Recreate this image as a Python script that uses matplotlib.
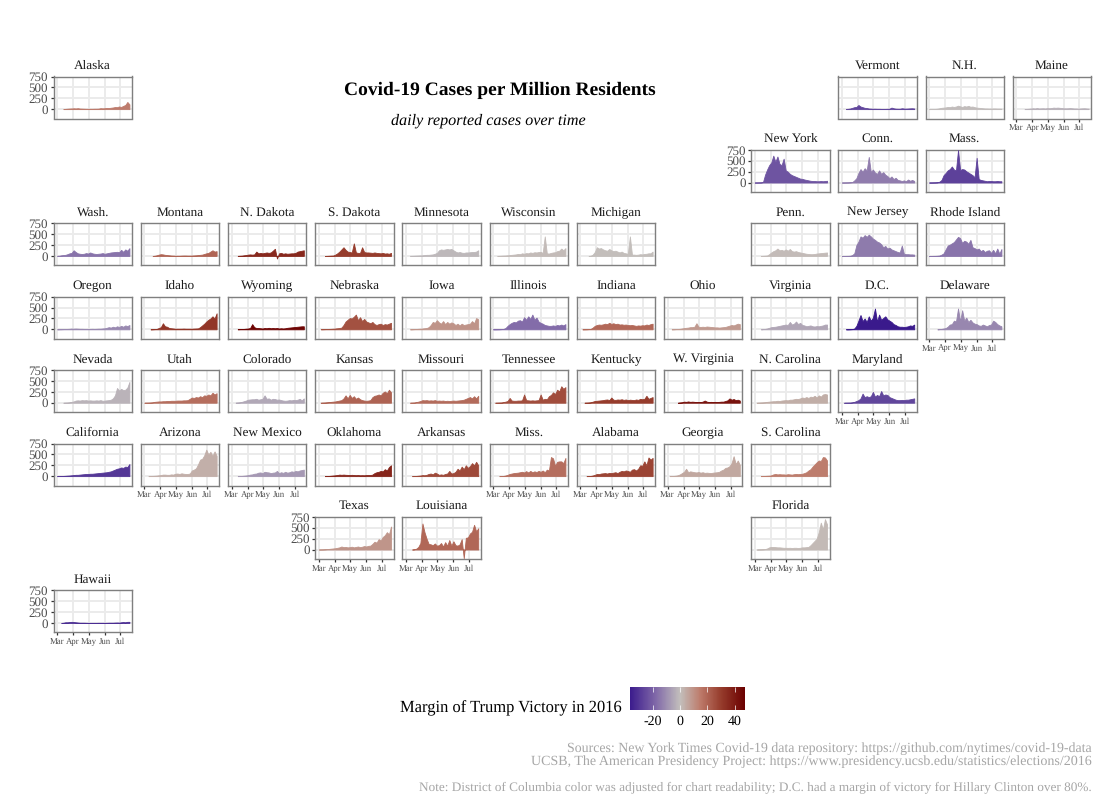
import numpy as np
import pandas as pd
import matplotlib
matplotlib.use("Agg")
import matplotlib.pyplot as plt
from matplotlib.cm import ScalarMappable
from matplotlib.colors import LinearSegmentedColormap, Normalize

plt.rcParams["font.family"] = ["Liberation Serif", "DejaVu Serif"]
plt.rcParams["text.hinting"] = "no_hinting"

# daily cases per million, read every 4 days, each list ends in mid July
alaska = [2,6,10,14,16,20,16,22,14,12,10,8,8,8,8,10,10,12,22,18,22,28,25,32,38,48,45,62,50,75,95,165,110]
vermont = [5,8,15,30,45,50,95,60,45,30,25,15,12,10,10,8,8,6,6,6,8,10,35,20,12,10,10,20,15,12,15,18,20,15]
nh = [0,2,3,5,10,20,30,35,40,50,45,60,50,60,80,65,50,70,60,75,55,60,45,35,30,25,20,15,15,12,15,15,15,12,12,10]
maine = [2,5,8,15,20,15,25,15,18,20,15,25,20,25,35,30,35,30,25,20,18,20,25,20,15,15,12,15,18,20,15,12]
new_york = [0,0,1,2,10,180,300,400,460,620,480,600,430,400,550,280,250,200,170,150,130,110,90,85,70,60,50,40,35,35,30,30,35,30,35,40]
conn = [0,0,1,2,5,10,50,100,220,310,250,330,280,590,240,300,230,200,280,200,240,180,150,100,140,80,110,60,50,35,50,30,70,40,60,35]
mass = [0,0,1,2,5,20,60,170,220,280,310,370,300,280,750,290,310,300,260,230,200,170,120,570,80,60,50,40,30,35,35,30,30,35,30,30]
wash = [5,5,15,20,25,40,60,70,130,90,60,50,45,50,65,55,80,60,50,45,50,55,65,50,60,70,80,85,90,95,85,140,95,150,120,180]
montana = [0,5,15,30,40,35,25,20,15,10,8,5,5,5,8,10,10,8,8,10,12,15,20,25,30,45,60,70,100,130,100,110]
n_dakota = [2,5,8,15,20,30,35,30,35,100,60,70,60,70,80,70,80,120,165,-60,60,70,50,60,50,55,60,60,70,100,110,120,130]
s_dakota = [0,2,5,8,10,30,60,100,150,200,140,100,90,80,290,80,70,70,200,90,80,80,75,70,80,70,65,60,70,55,60,50,70]
minnesota = [2,3,5,8,10,12,15,20,25,25,30,35,50,70,130,150,140,150,160,150,160,130,100,80,90,75,70,80,80,85,90,90,100,130]
wisconsin = [0,2,5,8,10,15,20,25,30,35,45,40,60,50,65,60,80,70,85,80,90,95,70,450,60,55,70,80,85,110,120,170,130,180]
michigan = [0,5,30,90,200,170,180,150,130,120,160,130,110,120,100,80,100,70,60,50,450,30,30,25,30,40,35,45,50,60,60,100]
penn = [0,2,5,10,40,80,110,130,170,130,140,120,150,120,160,110,100,110,90,80,70,60,50,45,40,40,45,55,60,65,70,75,80]
new_jersey = [0,0,1,2,5,20,60,250,330,450,420,480,440,490,450,400,370,330,310,270,200,230,170,190,150,130,110,90,80,240,50,40,40,35,35,30]
rhode_island = [0,0,1,2,5,10,30,60,150,240,260,290,320,380,440,410,300,350,330,280,370,200,180,150,170,110,140,90,120,130,70,140,60,170,50,160]
oregon = [0,2,3,5,8,10,12,18,15,18,15,12,12,10,10,10,10,12,10,12,15,15,20,25,35,50,40,60,45,70,55,80,60,90,75,100]
idaho = [0,2,5,10,30,50,140,70,60,30,25,20,15,15,15,15,18,15,15,15,15,18,20,22,50,90,130,180,220,250,300,250,370]
wyoming = [2,5,8,10,15,20,30,120,50,30,30,25,20,30,25,35,25,30,25,30,20,25,20,25,35,40,45,50,55,60,65,70,70]
nebraska = [2,3,5,8,10,12,15,20,25,30,40,100,180,220,260,250,290,340,210,280,190,240,180,160,140,170,120,100,120,130,100,120,110,130,150]
iowa = [0,2,5,8,12,15,20,25,30,50,100,170,150,210,160,130,190,120,170,130,160,140,100,130,90,130,100,110,120,130,190,140,260,230]
illinois = [0,0,1,2,5,10,30,80,120,150,170,160,200,210,180,280,220,300,240,340,220,270,180,150,130,100,90,80,80,90,80,100,90,110,90,120]
indiana = [0,1,2,5,10,40,80,100,110,105,115,130,120,150,125,140,120,130,110,115,105,110,100,95,100,90,80,90,85,95,90,110,100,120,130]
ohio = [0,2,5,8,12,20,30,35,40,50,50,60,140,60,55,60,55,65,60,55,50,45,45,40,45,50,55,70,85,100,90,110,130,120]
virginia = [0,5,10,20,35,50,55,60,70,80,90,100,110,100,170,110,130,180,120,150,100,90,70,80,90,70,65,75,70,80,90,110,110]
dc = [0,0,2,5,20,80,200,330,190,250,170,300,200,270,480,180,340,220,260,300,230,200,170,120,100,70,60,60,55,60,70,90,80,110]
delaware = [0,5,10,20,30,60,110,120,200,180,480,190,440,200,270,170,220,160,130,120,90,80,110,90,70,100,110,200,170,120,90,70]
nevada = [0,2,5,10,20,30,50,55,50,60,55,60,50,55,50,50,55,50,60,45,50,55,60,70,100,170,340,280,320,290,300,350,480]
utah = [0,1,2,5,10,20,25,30,30,35,35,40,40,45,45,45,50,50,50,55,55,60,90,120,110,130,120,150,130,170,160,190,170,230,190,220]
colorado = [2,5,10,20,35,50,70,75,80,80,90,70,80,90,170,90,100,70,90,85,70,75,60,50,45,50,60,55,65,60,70,90,55,100]
kansas = [0,2,5,10,15,20,25,30,40,50,60,100,170,100,180,110,150,90,120,80,60,50,45,50,60,130,160,170,190,170,230,260,220,300,240]
missouri = [0,2,5,15,25,40,60,55,60,50,55,50,60,45,50,45,50,40,45,40,45,50,45,50,55,60,70,90,110,130,100,150,100,160]
tennessee = [0,1,3,5,15,25,40,110,50,45,45,50,50,55,190,60,55,50,55,50,55,60,190,70,90,80,150,180,240,200,300,260,380,320,360]
kentucky = [0,2,5,10,25,40,45,50,55,60,70,75,60,120,70,65,75,70,80,65,75,60,70,65,60,75,65,90,80,90,160,90,110,130]
w_virginia = [0,5,10,25,20,30,20,25,20,15,18,15,25,50,25,15,20,15,20,15,20,25,25,40,55,100,70,85,60,70,50]
n_carolina = [0,2,5,8,12,20,25,30,35,35,45,40,50,55,60,55,70,70,80,90,85,100,120,110,130,110,140,130,160,120,170,140,190,200,190]
maryland = [0,1,2,3,10,20,40,60,100,210,130,150,130,150,250,140,180,150,270,170,190,180,130,110,90,70,60,60,65,60,70,70,80,90,100]
california = [0,2,3,5,8,12,15,20,25,30,30,35,40,45,50,50,55,55,60,65,70,75,80,85,90,100,110,130,150,170,180,200,190,220,210,280]
arizona = [0,2,5,8,12,20,25,35,35,30,30,40,35,55,60,50,65,55,50,50,60,130,150,180,270,380,400,480,610,500,560,470,570,470]
new_mexico = [0,2,5,10,15,25,35,40,55,60,80,85,70,100,90,85,70,80,85,120,70,90,75,100,80,90,110,100,120,110,130,140,150]
oklahoma = [0,2,5,10,15,20,25,35,30,35,30,28,25,30,25,22,25,20,22,20,25,28,25,35,70,90,100,120,110,160,130,210,250]
arkansas = [0,2,5,10,15,25,20,30,50,60,40,80,60,30,40,30,50,60,120,60,70,100,170,130,220,160,250,190,230,300,250,330,250]
miss = [0,2,5,15,30,50,60,70,75,80,90,100,85,115,85,120,90,110,95,120,100,130,90,150,130,440,410,240,330,340,340,300,420]
alabama = [0,2,5,15,30,50,45,60,65,70,60,75,70,80,90,70,100,120,110,130,120,100,150,160,130,170,250,240,340,250,430,380,420]
georgia = [0,2,5,10,20,40,70,100,170,90,110,100,90,85,95,80,90,75,80,75,70,80,85,90,100,130,150,190,200,230,300,460,280,360,260]
s_carolina = [0,2,5,8,10,20,40,50,40,45,40,40,35,45,40,35,45,50,45,50,55,70,90,130,160,220,270,320,360,350,440,430,360]
texas = [0,1,2,5,10,15,20,25,30,40,50,70,55,60,50,55,65,50,60,70,55,65,80,70,85,90,130,180,160,240,210,290,330,400,350,530]
louisiana = [0,5,20,60,150,600,400,250,130,120,100,140,90,100,150,70,170,90,220,90,190,100,90,120,240,-200,270,280,370,410,570,420,490]
florida = [0,2,3,5,10,25,50,60,60,55,50,50,45,40,40,38,40,35,40,40,35,40,50,50,55,60,100,150,200,250,400,620,460,700,580]
hawaii = [0,5,15,15,20,25,20,15,10,5,5,5,3,2,2,2,2,2,3,3,3,3,3,5,5,5,8,10,8,15,20,15,25,25]

states = ["Alaska", "Vermont", "N.H.", "Maine", "New York", "Conn.", "Mass.",
          "Wash.", "Montana", "N. Dakota", "S. Dakota", "Minnesota", "Wisconsin", "Michigan",
          "Penn.", "New Jersey", "Rhode Island", "Oregon", "Idaho", "Wyoming", "Nebraska",
          "Iowa", "Illinois", "Indiana", "Ohio", "Virginia", "D.C.", "Delaware",
          "Nevada", "Utah", "Colorado", "Kansas", "Missouri", "Tennessee", "Kentucky",
          "W. Virginia", "N. Carolina", "Maryland", "California", "Arizona", "New Mexico",
          "Oklahoma", "Arkansas", "Miss.", "Alabama", "Georgia", "S. Carolina",
          "Texas", "Louisiana", "Florida", "Hawaii"]
series = [alaska, vermont, nh, maine, new_york, conn, mass,
          wash, montana, n_dakota, s_dakota, minnesota, wisconsin, michigan,
          penn, new_jersey, rhode_island, oregon, idaho, wyoming, nebraska,
          iowa, illinois, indiana, ohio, virginia, dc, delaware,
          nevada, utah, colorado, kansas, missouri, tennessee, kentucky,
          w_virginia, n_carolina, maryland, california, arizona, new_mexico,
          oklahoma, arkansas, miss, alabama, georgia, s_carolina,
          texas, louisiana, florida, hawaii]
margins = [14.7, -26.4, -0.4, -3, -22.5, -13.6, -27.2,
           -15.7, 20.4, 35.7, 29.8, -1.5, 0.8, 0.2,
           0.7, -14.1, -15.5, -11, 31.8, 46.3, 25,
           9.4, -17, 19.2, 8.1, -5.3, -37, -11.4,
           -2.4, 18.1, -4.9, 20.6, 18.6, 26, 29.8,
           42, 3.7, -26.4, -30, 3.5, -8.2,
           36.4, 26.9, 17.8, 27.7, 5.1, 14.3,
           9, 19.6, 1.2, -32.2]
grid_col = [0, 9, 10, 11, 8, 9, 10,
            0, 1, 2, 3, 4, 5, 6, 8, 9, 10,
            0, 1, 2, 3, 4, 5, 6, 7, 8, 9, 10,
            0, 1, 2, 3, 4, 5, 6, 7, 8, 9,
            0, 1, 2, 3, 4, 5, 6, 7, 8,
            3, 4, 8, 0]
grid_row = [0, 0, 0, 0, 1, 1, 1,
            2, 2, 2, 2, 2, 2, 2, 2, 2, 2,
            3, 3, 3, 3, 3, 3, 3, 3, 3, 3, 3,
            4, 4, 4, 4, 4, 4, 4, 4, 4, 4,
            5, 5, 5, 5, 5, 5, 5, 5, 5,
            6, 6, 6, 7]

show_y = ["Alaska", "New York", "Wash.", "Oregon", "Nevada", "California", "Texas", "Hawaii"]
show_x = ["Maine", "Delaware", "Maryland", "Arizona", "New Mexico", "Miss.", "Alabama",
          "Georgia", "Texas", "Louisiana", "Florida", "Hawaii"]

dates = pd.date_range("2020-03-01", periods=36, freq="4D")
month_ticks = pd.to_datetime(["2020-03-01", "2020-04-01", "2020-05-01", "2020-06-01", "2020-07-01"])
month_labels = ["Mar", "Apr", "May", "Jun", "Jul"]
y_ticks = [0, 250, 500, 750]

cbar_min, cbar_max = -37, 47.5
norm = Normalize(cbar_min, cbar_max)
stops = [(-37, "#3a1a8c"), (-18, "#8068a8"), (0, "#c3bfbc"), (15, "#bd7a6a"), (30, "#963c2c"), (47.5, "#6b0000")]
cmap = LinearSegmentedColormap.from_list("margin", [(norm(v), c) for v, c in stops])

W, H = 1100, 800
fig = plt.figure(figsize=(11, 8), dpi=100)

for name, vals, margin, c, r in zip(states, series, margins, grid_col, grid_row):
    left = 53.5 + 87.2 * c
    top = 76.5 + 73.4 * r
    ax = fig.add_axes([left / W, 1 - (top + 42) / H, 78.5 / W, 42 / H])
    x = dates[-len(vals):]
    col = cmap(norm(margin))
    ax.fill_between(x, 0, vals, color=col, lw=0.6, zorder=3)
    ax.set_xlim(pd.Timestamp("2020-02-23"), pd.Timestamp("2020-07-24"))
    ax.set_ylim(-216, 752)
    ax.set_xticks(month_ticks)
    ax.set_yticks(y_ticks)
    ax.grid(True, color="#ebebeb", lw=1.4, zorder=0)
    ax.set_axisbelow(True)
    for sp in ax.spines.values():
        sp.set_color("#7f7f7f")
        sp.set_linewidth(1.0)
    ax.tick_params(axis="x", length=2.5, width=0.9, color="#333333", pad=1.5,
                   labelsize=6.3, labelcolor="#4d4d4d", bottom=name in show_x)
    ax.tick_params(axis="y", length=2.5, width=0.9, color="#333333", pad=1.5,
                   labelsize=9.4, labelcolor="#4d4d4d", left=name in show_y)
    ax.set_xticklabels(month_labels if name in show_x else [])
    ax.set_yticklabels(y_ticks if name in show_y else [])
    ax.set_title(name, fontsize=9.5, color="#1a1a1a", pad=5.5)

fig.text(499.5 / W, 1 - 90.5 / H, "Covid-19 Cases per Million Residents", ha="center", va="center",
         fontsize=14, fontweight="bold", color="black")
fig.text(488.5 / W, 1 - 121 / H, "daily reported cases over time", ha="center", va="center",
         fontsize=11.6, fontstyle="italic", color="black")

cax = fig.add_axes([629.5 / W, 1 - 710 / H, 115.5 / W, 23 / H])
cb = fig.colorbar(ScalarMappable(norm=norm, cmap=cmap), cax=cax, orientation="horizontal",
                  ticks=[-20, 0, 20, 40])
cb.outline.set_visible(False)
cb.ax.tick_params(length=0, pad=4, labelsize=10, labelcolor="black")
cb.ax.set_xticklabels(["-20", "0", "20", "40"])
cb.ax.vlines([-20, 0, 20, 40], 0, 0.2, color="white", lw=0.5)
cb.ax.vlines([-20, 0, 20, 40], 0.8, 1, color="white", lw=0.5)
fig.text(622 / W, 1 - 708 / H, "Margin of Trump Victory in 2016", ha="right", va="center",
         fontsize=11.9, color="black")

caption = "#a6a6a6"
fig.text(1092 / W, 1 - 749 / H, "Sources: New York Times Covid-19 data repository: https://github.com/nytimes/covid-19-data",
         ha="right", va="center", fontsize=10, color=caption)
fig.text(1092 / W, 1 - 762 / H, "UCSB, The American Presidency Project: https://www.presidency.ucsb.edu/statistics/elections/2016",
         ha="right", va="center", fontsize=10.05, color=caption)
fig.text(1092 / W, 1 - 787 / H, "Note: District of Columbia color was adjusted for chart readability; D.C. had a margin of victory for Hillary Clinton over 80%.",
         ha="right", va="center", fontsize=9.55, color=caption)

fig.savefig("out.png", dpi=100)
